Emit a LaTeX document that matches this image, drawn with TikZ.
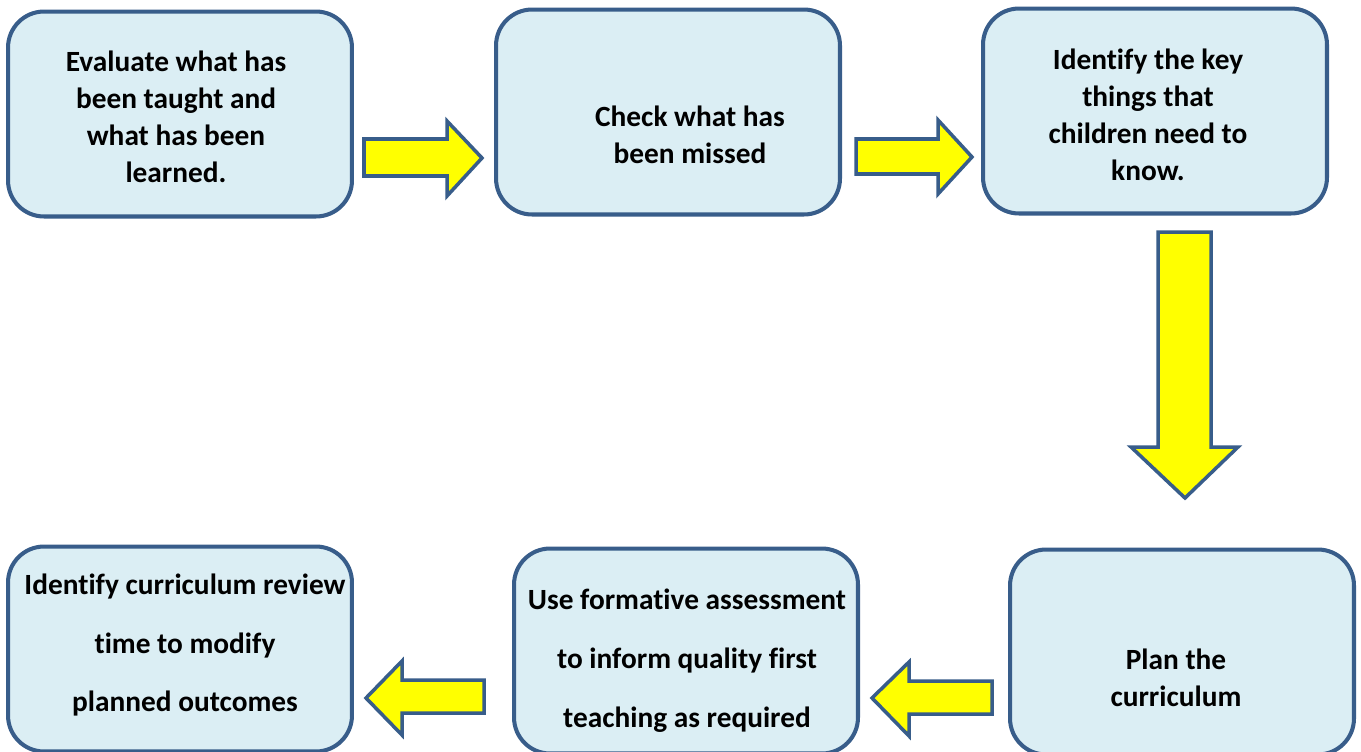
\documentclass[tikz,border=0pt]{standalone}
\usepackage{fontspec}
\setmainfont{Carlito}[RawFeature={-liga}]
\usepackage{tikz}
\usetikzlibrary{positioning}

\definecolor{boxline}{HTML}{385D8A}
\definecolor{boxfill}{HTML}{DBEEF4}
\definecolor{arrowfill}{HTML}{FFFF00}

\tikzset{
  box/.style = {draw = boxline, fill = boxfill, line width = 2.3pt,
    rounded corners = 0.72cm, minimum width = 6.88cm, minimum height = 4.1cm},
  lbl/.style = {align = center, font = \fontsize{16.7}{21}\selectfont\bfseries},
  lblwide/.style = {lbl, font = \fontsize{16.7}{33.5}\selectfont\bfseries},
  blockarrow/.style = {draw = boxline, fill = arrowfill, line width = 2pt, line join = miter}
}

\begin{document}
\begin{tikzpicture}[x = 0.02cm, y = -0.02cm]
\clip (0, 0) rectangle (1361, 751);
\fill[white] (0, 0) rectangle (1361, 751);

% top row
\node[box] (evaluate) at (180, 114) {};
\node[box] (check) at (668, 112) {};
\node[box] (identify) at (1155, 111) {};
% bottom row
\node[box] (plan) at (1182, 652) {};
\node[box] (formative) at (686, 651) {};
\node[box] (review) at (180, 649) {};

\node[lbl] (evaluatetext) at (176, 117) {Evaluate what has\\been taught and\\what has been\\learned.};
\node[lbl] (checktext) at (690, 135) {Check what has\\been missed};
\node[lbl] (identifytext) at (1148, 115) {Identify the key\\things that\\children need to\\know.};
\node[lbl] (plantext) at (1176, 678) {Plan the\\curriculum};
\node[lblwide] (formativetext) at (687, 661) {Use formative assessment\\to inform quality first\\teaching as required};
\node[lblwide] (reviewtext) at (185, 645) {Identify curriculum review\\time to modify\\planned outcomes};

% block arrows
\draw[blockarrow] (364, 139) -- (447, 139) -- (447, 121) -- (482, 158) -- (447, 196) -- (447, 176) -- (364, 176) -- cycle;
\draw[blockarrow] (856, 139) -- (938, 139) -- (938, 120) -- (972, 157) -- (938, 194) -- (938, 174) -- (856, 174) -- cycle;
\draw[blockarrow] (1158, 232) -- (1211, 232) -- (1211, 447) -- (1238, 447) -- (1185, 498) -- (1131, 447) -- (1158, 447) -- cycle;
\draw[blockarrow] (992, 681) -- (909, 681) -- (909, 662) -- (872, 698) -- (909, 736) -- (909, 714) -- (992, 714) -- cycle;
\draw[blockarrow] (484, 680) -- (402, 680) -- (402, 661) -- (366, 698) -- (402, 735) -- (402, 713) -- (484, 713) -- cycle;
\end{tikzpicture}
\end{document}
